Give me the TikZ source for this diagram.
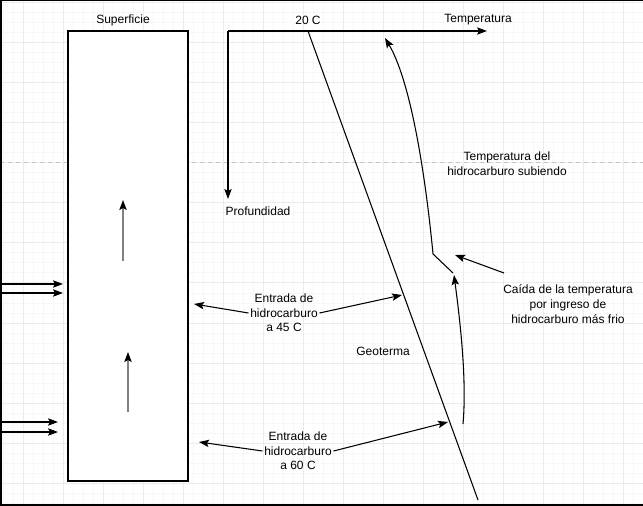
\documentclass[tikz,border=0pt]{standalone}
\usepackage{fontspec}
\setmainfont{Liberation Sans}
\usepackage{xcolor}
\usetikzlibrary{arrows.meta, positioning}

\definecolor{gridminor}{HTML}{F7F7F7}
\definecolor{gridmajor}{HTML}{EBEBEB}
\definecolor{pageline}{HTML}{C4C4C4}
\definecolor{shaftgray}{HTML}{808080}

\begin{document}
\begin{tikzpicture}[x=0.75pt,y=-0.75pt,line width=0.8pt,
        >={Stealth[length=7.5pt,width=5.5pt,inset=1.5pt]},
        lbl/.style={font=\fontsize{9}{11}\selectfont, align=center, inner sep=1pt},
        tank/.style={draw, minimum width=90pt, minimum height=337.5pt, inner sep=0pt},
        flow/.style={draw=shaftgray, line width=1pt, -{Stealth[length=7.5pt,width=5.5pt,inset=1.5pt,black]}}]

      % grid background
      \useasboundingbox (0,0) rectangle (643,506);
      \foreach \gx in {3,13,...,643} \draw[gridminor,line width=0.75pt] (\gx,0) -- (\gx,506);
      \foreach \gy in {3,13,...,506} \draw[gridminor,line width=0.75pt] (0,\gy) -- (643,\gy);
      \foreach \gx in {23,63,...,643} \draw[gridmajor,line width=0.75pt] (\gx,0) -- (\gx,506);
      \foreach \gy in {3,43,...,506} \draw[gridmajor,line width=0.75pt] (0,\gy) -- (643,\gy);
      \draw[pageline,dashed,line width=0.75pt] (0,163) -- (643,163);
      \draw[line width=1.5pt] (643,0.5) -- (0.5,0.5) -- (0.5,505) -- (643,505);

      % well
      \node[tank, fill=white] (well) at (128,256) {};
      \node[lbl] (surf) at (123,20) {Superficie};
      \draw[flow] (123,261) -- (123,200);
      \draw[flow] (128,412) -- (128,352);

      % inlets
      \coordinate (inA1) at (0,284);  \coordinate (inA1e) at (63,284);
      \coordinate (inA2) at (0,293);  \coordinate (inA2e) at (63,293);
      \coordinate (inB1) at (0,422);  \coordinate (inB1e) at (58,422);
      \coordinate (inB2) at (0,432);  \coordinate (inB2e) at (58,432);
      \draw[->] (inA1) -- (inA1e);
      \draw[->] (inA2) -- (inA2e);
      \draw[->] (inB1) -- (inB1e);
      \draw[->] (inB2) -- (inB2e);

      % axes
      \coordinate (origin) at (228,31);
      \coordinate (tempEnd) at (487,31);
      \coordinate (depthEnd) at (228,199);
      \draw[->] (origin) -- (tempEnd);
      \draw[->] (origin) -- (depthEnd);
      \node[lbl] (t20) at (308,20) {20 C};
      \node[lbl] (temp) at (478,20) {Temperatura};
      \node[lbl] (depth) at (258,211) {Profundidad};

      % geotherm
      \coordinate (geoTop) at (308,31);
      \coordinate (geoBot) at (478,500);
      \draw (geoTop) -- (geoBot);
      \node[lbl] (geo) at (383,351) {Geoterma};

      % hydrocarbon temperature path
      \coordinate (kinkLow) at (453,273);
      \coordinate (kinkHigh) at (433,254);
      \coordinate (riseTop) at (385,38);
      \coordinate (riseLow) at (463,424);
      \draw[->] (kinkLow) -- (kinkHigh) .. controls (425,170) and (410,80) .. (riseTop);
      \draw[->] (riseLow) .. controls (467,380) and (460,320) .. (454,275);
      \node[lbl] (rising) at (507,164) {Temperatura del\\hidrocarburo subiendo};

      \node[lbl] (drop) at (568,304) {Caída de la temperatura\\por ingreso de\\hidrocarburo más frio};
      \coordinate (dropFrom) at (504,273);
      \coordinate (dropTo) at (455,255);
      \draw[->] (dropFrom) -- (dropTo);

      % entries
      \node[lbl] (e45) at (284,313) {Entrada de\\hidrocarburo\\a 45 C};
      \coordinate (e45L) at (194,304);
      \coordinate (e45R) at (402,295);
      \draw[->] (e45.west) -- (e45L);
      \draw[->] (e45.east) -- (e45R);

      \node[lbl] (e60) at (298,451) {Entrada de\\hidrocarburo\\a 60 C};
      \coordinate (e60L) at (199,442);
      \coordinate (e60R) at (448,422);
      \draw[->] (e60.west) -- (e60L);
      \draw[->] (e60.east) -- (e60R);
\end{tikzpicture}
\end{document}
